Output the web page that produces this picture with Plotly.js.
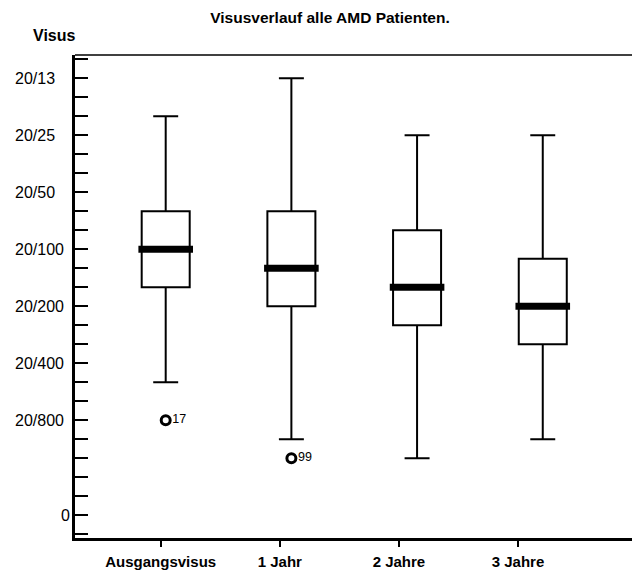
<!DOCTYPE html>
<html>
<head>
<meta charset="utf-8">
<script src="https://cdn.plot.ly/plotly-3.0.1.min.js"></script>
<style>html,body{margin:0;padding:0;background:#fff;}#chart{width:632px;height:570px;}</style>
</head>
<body>
<div id="chart"></div>
<script>
// Categories (time points)
const categories = ["Ausgangsvisus", "1 Jahr", "2 Jahre", "3 Jahre"];
// Visual acuity expressed in logMAR (axis reversed: better vision at top)
const upperWhisker = [0.0, -0.2, 0.1, 0.1];
const q1 = [0.5, 0.5, 0.6, 0.75];
const medians = [0.7, 0.8, 0.9, 1.0];
const q3 = [0.9, 1.0, 1.1, 1.2];
const lowerWhisker = [1.4, 1.7, 1.8, 1.7];
// Outliers
const outlierCat = ["Ausgangsvisus", "1 Jahr"];
const outlierVal = [1.6, 1.8];
const outlierId = ["17", "99"];
// Y-axis ticks
const yTickVals = [-0.3,-0.2,-0.1,0.0,0.1,0.2,0.3,0.4,0.5,0.6,0.7,0.8,0.9,1.0,1.1,1.2,1.3,1.4,1.5,1.6,1.7,1.8,1.9,2.0,2.1,2.2];
const yLabelVals = [-0.2, 0.1, 0.4, 0.7, 1.0, 1.3, 1.6, 2.1];
const yLabelText = ["20/13", "20/25", "20/50", "20/100", "20/200", "20/400", "20/800", "0"];

const font = "Liberation Sans, Arial, Helvetica, sans-serif";

const data = [
  {
    type: "box",
    x: categories,
    q1: q1, median: medians, q3: q3,
    lowerfence: upperWhisker, upperfence: lowerWhisker,
    width: 0.382,
    whiskerwidth: 0.52,
    fillcolor: "rgba(255,255,255,0)",
    line: {color: "#000", width: 2},
    boxpoints: false,
    hoverinfo: "skip",
    showlegend: false,
    xaxis: "x", yaxis: "y"
  },
  {
    type: "scatter",
    mode: "markers",
    x: categories,
    y: medians,
    marker: {symbol: "line-ew", size: 39, color: "#000", line: {color: "#000", width: 7}},
    hoverinfo: "skip",
    showlegend: false,
    xaxis: "x", yaxis: "y"
  },
  {
    type: "scatter",
    mode: "markers+text",
    x: outlierCat,
    y: outlierVal,
    text: outlierId,
    textposition: "middle right",
    textfont: {family: font, size: 12.5, color: "#000"},
    marker: {symbol: "circle-open", size: 9, color: "#000", line: {color: "#000", width: 3}},
    hoverinfo: "skip",
    showlegend: false,
    xaxis: "x", yaxis: "y"
  },
  {
    type: "scatter",
    mode: "markers",
    x: [0, 1, 2, 3],
    y: medians,
    marker: {opacity: 0},
    hoverinfo: "skip",
    showlegend: false,
    xaxis: "x2", yaxis: "y"
  }
];

const yAnnotations = yLabelVals.map((v, i) => {
  const isZero = yLabelText[i] === "0";
  return {
    text: yLabelText[i],
    xref: "paper", yref: "y",
    x: isZero ? -3/557 : -62/557,
    y: v,
    xanchor: isZero ? "right" : "left",
    yanchor: "middle",
    showarrow: false,
    font: {family: font, size: 16, color: "#000"}
  };
});

const layout = {
  width: 632, height: 570,
  margin: {l: 75, r: 0, t: 55, b: 32},
  paper_bgcolor: "#fff", plot_bgcolor: "#fff",
  font: {family: font, color: "#000", size: 15},
  showlegend: false,
  title: {
    text: "<b>Visusverlauf alle AMD Patienten.</b>",
    font: {family: font, size: 15.5, color: "#000"},
    x: 330/632, xref: "container", xanchor: "center",
    y: 1 - 18/570, yref: "container", yanchor: "middle"
  },
  xaxis: {
    type: "category",
    range: [-0.7216, 3.710],
    showticklabels: false,
    ticks: "",
    showgrid: false, zeroline: false,
    showline: true, linecolor: "#000", linewidth: 2.5,
    fixedrange: true
  },
  xaxis2: {
    overlaying: "x",
    side: "bottom",
    type: "linear",
    range: [-0.7196, 3.957],
    tickmode: "array",
    tickvals: [0, 1, 2, 3],
    ticktext: categories.map(c => "<b>" + c + "</b>"),
    tickfont: {family: font, size: 15, color: "#000"},
    ticks: "outside", ticklen: 8, tickwidth: 2, tickcolor: "#000",
    ticklabelstandoff: 2,
    showgrid: false, zeroline: false, showline: false,
    fixedrange: true
  },
  yaxis: {
    range: [2.2195, -0.3226],
    tickmode: "array",
    tickvals: yTickVals,
    showticklabels: false,
    ticks: "inside", ticklen: 13, tickwidth: 2, tickcolor: "#000",
    showgrid: false, zeroline: false,
    showline: true, linecolor: "#000", linewidth: 3,
    fixedrange: true
  },
  shapes: [
    {type: "line", xref: "paper", yref: "paper", x0: 0, x1: 1, y0: 1, y1: 1, line: {color: "#000", width: 1.5}}
  ],
  annotations: [
    {text: "<b>Visus</b>", xref: "paper", yref: "paper", x: -21/557, y: 1 + 20/483, xanchor: "center", yanchor: "middle", showarrow: false, font: {family: font, size: 16, color: "#000"}}
  ].concat(yAnnotations)
};

Plotly.newPlot("chart", data, layout, {displayModeBar: false, staticPlot: true});
</script>
</body>
</html>
